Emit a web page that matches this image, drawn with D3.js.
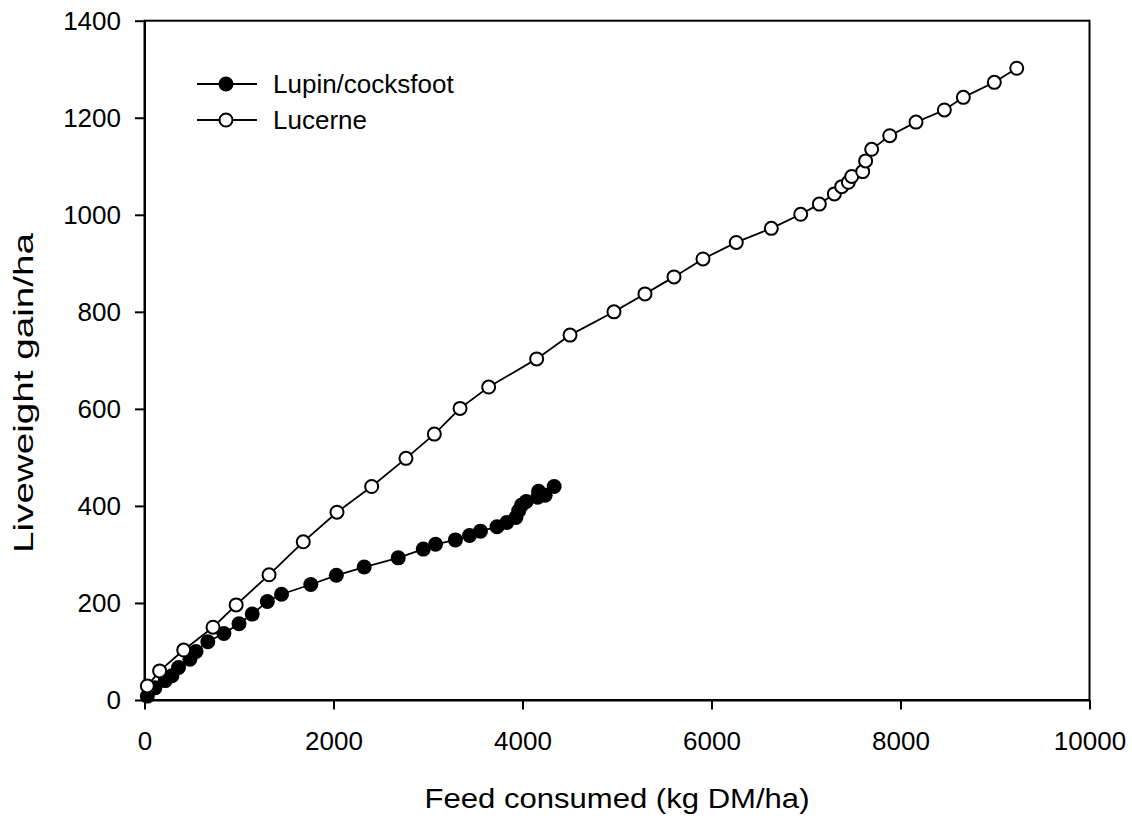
<!DOCTYPE html>
<html>
<head>
<meta charset="utf-8">
<script src="https://cdn.jsdelivr.net/npm/d3@7"></script>
<style>
  body { margin: 0; background: #fff; }
  text { font-family: Arial, "Liberation Sans", sans-serif; fill: #000; }
</style>
</head>
<body>
<svg id="chart"></svg>
<script>
// data
var lupinFeed = [30, 110, 220, 290, 360, 480, 545, 670, 840, 1000, 1140, 1300, 1450, 1760, 2030, 2325, 2685, 2950, 3080, 3290, 3440, 3555, 3730, 3835, 3930, 3960, 3990, 4040, 4160, 4170, 4240, 4335];
var lupinGain = [8, 25, 40, 50, 67, 84, 100, 120, 137, 157, 177, 203, 218, 238, 257, 274, 293, 311, 321, 330, 339, 348, 357, 366, 376, 390, 402, 409, 418, 430, 422, 440];

var lucerneFeed = [30, 160, 415, 725, 970, 1318, 1680, 2037, 2404, 2767, 3067, 3339, 3642, 4150, 4503, 4968, 5296, 5603, 5910, 6262, 6633, 6944, 7141, 7300, 7378, 7448, 7484, 7600, 7631, 7695, 7886, 8164, 8464, 8665, 8993, 9230];
var lucerneGain = [29, 60, 103, 150, 196, 258, 326, 387, 440, 498, 548, 601, 645, 703, 752, 800, 837, 872, 909, 943, 972, 1001, 1022, 1043, 1058, 1067, 1079, 1089, 1111, 1135, 1163, 1191, 1216, 1242, 1273, 1302];

var xTicks = [0, 2000, 4000, 6000, 8000, 10000];
var yTicks = [0, 200, 400, 600, 800, 1000, 1200, 1400];

var full_width = 1132, full_height = 816;
var margin = {top: 20.7, right: 42.5, bottom: 116, left: 144.5};
var width = full_width - margin.left - margin.right,
    height = full_height - margin.top - margin.bottom;

var svg = d3.select("#chart")
    .attr("width", full_width)
    .attr("height", full_height);

var g = svg.append("g")
    .attr("transform", "translate(" + margin.left + "," + margin.top + ")");

var x = d3.scaleLinear().domain([0, 10000]).range([0, width]);
var y = d3.scaleLinear().domain([0, 1400]).range([height, 0]);

// frame (top and right sides)
g.append("rect")
    .attr("width", width)
    .attr("height", height)
    .attr("fill", "none")
    .attr("stroke", "#000")
    .attr("stroke-width", 2);

var xAxis = g.append("g")
    .attr("transform", "translate(0," + height + ")")
    .call(d3.axisBottom(x).tickValues(xTicks).tickFormat(d3.format("d"))
      .tickSize(9.5).tickSizeOuter(0).tickPadding(22));

var yAxis = g.append("g")
    .call(d3.axisLeft(y).tickValues(yTicks).tickFormat(d3.format("d"))
      .tickSize(9.5).tickSizeOuter(0).tickPadding(14));

[xAxis, yAxis].forEach(function(a) {
  a.select(".domain").attr("stroke-width", 2);
  a.selectAll(".tick line").attr("stroke-width", 2);
  a.selectAll(".tick text")
    .style("font-family", "Arial, 'Liberation Sans', sans-serif")
    .attr("font-size", 26);
});

// axis titles
svg.append("text")
    .attr("x", margin.left + width / 2)
    .attr("y", 808)
    .attr("text-anchor", "middle")
    .attr("font-size", 28)
    .attr("textLength", 385)
    .attr("lengthAdjust", "spacingAndGlyphs")
    .text("Feed consumed (kg DM/ha)");

svg.append("text")
    .attr("transform", "translate(33,393) rotate(-90)")
    .attr("text-anchor", "middle")
    .attr("font-size", 28)
    .attr("textLength", 320)
    .attr("lengthAdjust", "spacingAndGlyphs")
    .text("Liveweight gain/ha");

var line = d3.line()
    .x(function(d) { return x(d[0]); })
    .y(function(d) { return y(d[1]); });

var series = [
  {name: "Lupin/cocksfoot", data: d3.zip(lupinFeed, lupinGain), fill: "#000", r: 7.5},
  {name: "Lucerne", data: d3.zip(lucerneFeed, lucerneGain), fill: "#fff", r: 6.5}
];

series.forEach(function(s) {
  g.append("path")
      .datum(s.data)
      .attr("fill", "none")
      .attr("stroke", "#000")
      .attr("stroke-width", 1.8)
      .attr("d", line);

  g.selectAll(null)
      .data(s.data)
      .enter().append("circle")
      .attr("cx", function(d) { return x(d[0]); })
      .attr("cy", function(d) { return y(d[1]); })
      .attr("r", s.r)
      .attr("fill", s.fill)
      .attr("stroke", "#000")
      .attr("stroke-width", s.fill == "#000" ? 0 : 2);
});

// legend
var legend = svg.append("g")
    .selectAll("g")
    .data(series)
    .enter().append("g")
    .attr("transform", function(d, i) { return "translate(197," + (84 + i * 36) + ")"; });

legend.append("line")
    .attr("x1", 0).attr("x2", 60)
    .attr("stroke", "#000")
    .attr("stroke-width", 1.8);

legend.append("circle")
    .attr("cx", 29)
    .attr("r", function(d) { return d.r; })
    .attr("fill", function(d) { return d.fill; })
    .attr("stroke", "#000")
    .attr("stroke-width", function(d) { return d.fill == "#000" ? 0 : 2; });

legend.append("text")
    .attr("x", 76)
    .attr("dy", "0.35em")
    .attr("font-size", 26)
    .text(function(d) { return d.name; });
</script>
</body>
</html>
